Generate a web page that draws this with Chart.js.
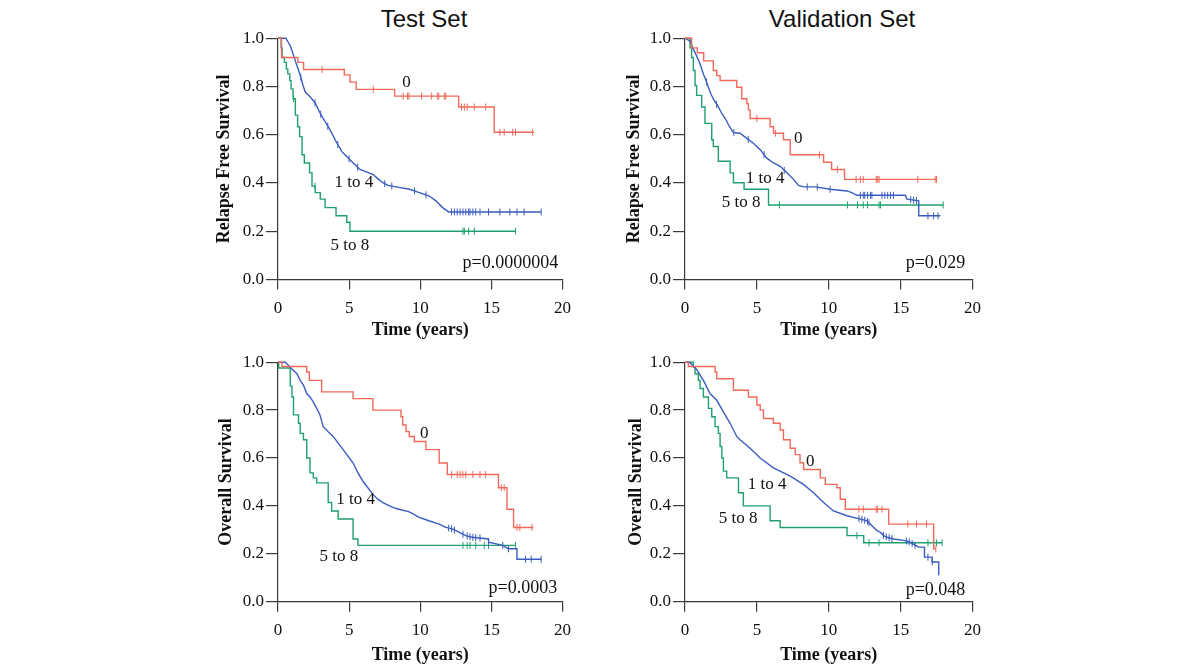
<!DOCTYPE html>
<html>
<head>
<meta charset="utf-8">
<script src="https://cdn.jsdelivr.net/npm/chart.js@4.4.1/dist/chart.umd.min.js"></script>
<style>
  body { margin: 0; background: #fff; width: 1200px; height: 671px; position: relative; overflow: hidden; }
  canvas { position: absolute; }
  .title { position: absolute; font-family: 'Liberation Sans', Arial, sans-serif; font-size: 24px;
           line-height: 24px; color: #111; transform: translateX(-50%); white-space: nowrap; }
</style>
</head>
<body>
<div class="title" style="left:424px; top:7px">Test Set</div>
<div class="title" style="left:842px; top:7px">Validation Set</div>
<canvas id="rfsTest" width="385" height="320" style="left:195px; top:26px"></canvas>
<canvas id="rfsVal" width="388" height="320" style="left:602px; top:26px"></canvas>
<canvas id="osTest" width="385" height="321" style="left:195px; top:350px"></canvas>
<canvas id="osVal" width="388" height="321" style="left:602px; top:350px"></canvas>
<script>
// ============================================================
// Kaplan-Meier curves — risk score groups 0 / 1 to 4 / 5 to 8
// ============================================================

const X_TICKS = [0, 5, 10, 15, 20];
const Y_TICKS = [0, 0.2, 0.4, 0.6, 0.8, 1.0];

// ── Relapse free survival, test set ─────────────────────────
const rfsTestT0 = [0, 0.25, 1.4, 1.8, 4.66, 5.06, 5.5, 8.2, 12.7, 15.2, 18.0];
const rfsTestS0 = [1, 0.92, 0.90, 0.87, 0.848, 0.818, 0.788, 0.76, 0.715, 0.61, 0.61];
const rfsTestC0 = [3.1, 6.7, 8.8, 9.1, 9.2, 10.1, 10.8, 11.2, 11.3, 11.7, 11.8, 12.9, 13.1, 13.3, 13.8, 14.6, 15.6, 15.9, 16.5, 16.7, 17.9];

const rfsTestT1 = [0, 0.55, 0.87, 0.99, 1.22, 1.38, 1.57, 1.76, 1.92, 2.27, 2.62, 2.97, 3.31, 3.66, 4.08, 4.48, 4.83, 5.29, 5.76, 6.22, 6.69, 7.03, 7.38, 7.73, 8.5, 9.25, 9.94, 10.64, 11.1, 11.57, 12.0, 18.5];
const rfsTestS1 = [1, 1, 0.968, 0.947, 0.906, 0.879, 0.845, 0.804, 0.777, 0.756, 0.731, 0.688, 0.654, 0.62, 0.572, 0.531, 0.51, 0.483, 0.456, 0.446, 0.435, 0.417, 0.401, 0.39, 0.382, 0.374, 0.36, 0.346, 0.326, 0.298, 0.28, 0.28];
const rfsTestC1 = [1.6, 2.6, 3.0, 3.5, 4.2, 5.0, 5.6, 7.5, 8.0, 9.6, 10.4, 12.2, 12.4, 12.6, 12.8, 13.0, 13.2, 13.4, 13.5, 13.7, 13.9, 14.2, 14.8, 15.6, 16.3, 16.8, 17.3, 18.5];

const rfsTestT2 = [0, 0.22, 0.29, 0.45, 0.59, 0.69, 0.83, 0.92, 1.06, 1.22, 1.38, 1.52, 1.69, 1.85, 2.22, 2.39, 2.62, 2.97, 3.31, 4.08, 4.83, 5.06, 16.7];
const rfsTestS2 = [1, 0.96, 0.92, 0.90, 0.872, 0.852, 0.824, 0.79, 0.749, 0.681, 0.633, 0.592, 0.517, 0.483, 0.442, 0.387, 0.36, 0.333, 0.298, 0.264, 0.237, 0.2, 0.2];
const rfsTestC2 = [1.1, 2.6, 13.0, 13.1, 13.4, 13.8, 16.7];

// ── Relapse free survival, validation set ───────────────────
const rfsValT0 = [0, 0.46, 0.86, 1.3, 1.97, 2.21, 2.44, 3.6, 3.95, 4.3, 4.41, 4.53, 5.92, 6.16, 6.85, 7.32, 9.64, 10.2, 11.1, 17.5];
const rfsValS0 = [1, 0.96, 0.94, 0.906, 0.866, 0.845, 0.825, 0.797, 0.749, 0.729, 0.702, 0.667, 0.633, 0.606, 0.579, 0.517, 0.486, 0.456, 0.415, 0.415];
const rfsValC0 = [5.0, 6.3, 9.36, 10.6, 11.9, 12.2, 12.4, 13.3, 13.4, 13.5, 16.2, 17.4, 17.5];

const rfsValT1 = [0, 0.35, 0.53, 0.7, 0.86, 1.05, 1.28, 1.46, 1.63, 1.79, 2.02, 2.32, 2.56, 2.86, 3.1, 3.37, 3.83, 4.3, 4.76, 5.23, 5.69, 6.16, 6.62, 7.09, 7.55, 7.9, 8.25, 9.06, 10.1, 11.27, 11.6, 11.96, 15.33, 15.45, 16.26, 16.26, 17.77];
const rfsValS1 = [1, 0.988, 0.961, 0.94, 0.92, 0.893, 0.852, 0.825, 0.797, 0.77, 0.743, 0.715, 0.688, 0.661, 0.633, 0.609, 0.606, 0.585, 0.565, 0.538, 0.503, 0.483, 0.469, 0.442, 0.415, 0.39, 0.384, 0.384, 0.374, 0.367, 0.36, 0.349, 0.349, 0.333, 0.326, 0.264, 0.264];
const rfsValC1 = [1.5, 2.2, 3.4, 4.4, 5.5, 6.9, 8.5, 9.2, 10.1, 12.2, 12.4, 12.5, 12.7, 12.9, 13.0, 13.7, 13.9, 14.1, 14.3, 14.5, 15.7, 15.9, 16.1, 16.9, 17.3, 17.6];

const rfsValT2 = [0, 0.35, 0.46, 0.58, 0.7, 0.81, 1.16, 1.39, 1.86, 1.97, 2.32, 3.14, 3.37, 4.11, 5.81, 17.96];
const rfsValS2 = [1, 0.96, 0.92, 0.866, 0.804, 0.763, 0.715, 0.647, 0.579, 0.551, 0.49, 0.442, 0.401, 0.374, 0.309, 0.309];
const rfsValC2 = [6.57, 11.3, 12.0, 12.4, 12.7, 13.5, 13.6, 17.96];

// ── Overall survival, test set ──────────────────────────────
const osTestT0 = [0, 0.28, 2.02, 2.2, 3.07, 5.28, 6.67, 8.65, 8.77, 9.0, 9.23, 9.58, 10.4, 11.33, 11.9, 15.5, 16.1, 16.56, 17.96];
const osTestS0 = [1, 0.982, 0.959, 0.924, 0.876, 0.848, 0.80, 0.772, 0.738, 0.71, 0.69, 0.669, 0.635, 0.579, 0.531, 0.476, 0.386, 0.31, 0.31];
const osTestC0 = [12.2, 12.6, 12.8, 13.0, 13.2, 13.7, 14.2, 14.6, 15.7, 15.9, 16.8, 17.0, 17.85];

const osTestT1 = [0, 0.51, 0.74, 0.98, 1.33, 1.56, 1.79, 2.02, 2.25, 2.48, 2.72, 2.95, 3.18, 3.53, 3.88, 4.23, 4.58, 4.93, 5.28, 5.62, 5.97, 6.32, 6.67, 7.02, 7.37, 7.84, 8.3, 9.23, 9.93, 10.6, 11.33, 11.8, 12.25, 12.72, 13.2, 13.65, 14.8, 14.8, 15.8, 16.2, 16.8, 16.8, 18.5];
const osTestS1 = [1, 1, 0.986, 0.972, 0.952, 0.924, 0.904, 0.869, 0.855, 0.834, 0.807, 0.78, 0.731, 0.71, 0.69, 0.662, 0.635, 0.607, 0.579, 0.538, 0.503, 0.476, 0.448, 0.428, 0.414, 0.40, 0.389, 0.375, 0.352, 0.338, 0.324, 0.31, 0.304, 0.29, 0.276, 0.269, 0.262, 0.248, 0.235, 0.221, 0.221, 0.177, 0.177];
const osTestC1 = [12.0, 12.2, 12.4, 13.0, 13.3, 13.5, 13.7, 13.9, 14.2, 14.8, 15.8, 16.2, 17.4, 17.8, 18.5];

const osTestT2 = [0, 0.05, 0.86, 0.98, 1.09, 1.44, 1.56, 1.79, 2.02, 2.25, 2.48, 2.72, 3.53, 3.77, 4.23, 5.28, 5.62, 16.7];
const osTestS2 = [1, 0.976, 0.90, 0.855, 0.78, 0.745, 0.703, 0.676, 0.60, 0.538, 0.517, 0.496, 0.414, 0.379, 0.345, 0.262, 0.235, 0.235];
const osTestC2 = [13.0, 13.3, 13.5, 13.9, 14.5, 14.8, 16.7];

// ── Overall survival, validation set ────────────────────────
const osValT0 = [0, 0.23, 2.09, 2.21, 3.37, 4.41, 5.0, 5.23, 5.46, 6.15, 6.62, 6.85, 7.32, 7.67, 8.0, 8.25, 9.41, 9.76, 10.57, 10.8, 11.15, 14.17, 17.3, 17.45];
const osValS0 = [1, 0.982, 0.959, 0.931, 0.883, 0.855, 0.821, 0.80, 0.765, 0.745, 0.717, 0.676, 0.641, 0.614, 0.58, 0.552, 0.517, 0.49, 0.476, 0.428, 0.386, 0.324, 0.221, 0.221];
const osValC0 = [12.1, 12.4, 13.3, 13.4, 13.7, 15.5, 16.1, 16.8, 17.45];

const osValT1 = [0, 0.3, 0.81, 1.28, 1.74, 2.21, 2.67, 3.14, 3.6, 3.83, 4.53, 5.23, 6.15, 7.32, 8.24, 8.94, 9.64, 10.33, 11.27, 12.2, 12.66, 12.89, 13.13, 13.36, 13.59, 13.82, 14.05, 14.52, 15.33, 15.68, 16.03, 16.26, 16.66, 16.66, 17.19, 17.19, 17.65, 17.65];
const osValS1 = [1, 1, 0.97, 0.924, 0.869, 0.841, 0.793, 0.745, 0.69, 0.676, 0.641, 0.60, 0.559, 0.524, 0.49, 0.455, 0.414, 0.379, 0.359, 0.345, 0.338, 0.324, 0.31, 0.297, 0.29, 0.276, 0.269, 0.262, 0.255, 0.248, 0.235, 0.228, 0.228, 0.186, 0.186, 0.166, 0.166, 0.11];
const osValC1 = [12.1, 12.3, 12.5, 12.7, 12.8, 13.8, 14.0, 14.2, 14.4, 15.4, 15.6, 15.8, 16.0, 16.9, 17.2];

const osValT2 = [0, 0.58, 0.7, 0.93, 1.05, 1.28, 1.63, 1.86, 2.09, 2.32, 2.44, 2.56, 2.67, 2.9, 3.72, 4.06, 5.92, 6.62, 11.27, 12.43, 17.89];
const osValS2 = [1, 0.98, 0.952, 0.924, 0.89, 0.855, 0.807, 0.772, 0.731, 0.703, 0.648, 0.60, 0.545, 0.517, 0.455, 0.40, 0.338, 0.31, 0.276, 0.246, 0.246];
const osValC2 = [11.96, 12.8, 13.5, 16.9, 17.3, 17.5, 17.89];

// Shared look
const SERIF = "'Liberation Serif', 'Times New Roman', serif";
const COLORS = ['#F0695A', '#3A5CC0', '#1FA06C'];
const AXIS = '#3a3a3a';

// ── Curve value at time t (step or traced line) ─────────────
function levelAt(ts, ss, t, stepped) {
    let i = 0;
    while (i + 1 < ts.length && ts[i + 1] <= t) i++;
    if (stepped || i + 1 >= ts.length) return ss[i];
    const f = (t - ts[i]) / (ts[i + 1] - ts[i]);
    return ss[i] + f * (ss[i + 1] - ss[i]);
}

function groupSets(ts, ss, cs, color, stepped) {
    return [
        {
            data: ts.map((t, i) => ({ x: t, y: ss[i] })),
            showLine: true,
            stepped: stepped ? 'before' : false,
            borderColor: color,
            borderWidth: 1.4,
            pointRadius: 0,
            fill: false,
            clip: false
        },
        {
            data: cs.map(t => ({ x: t, y: levelAt(ts, ss, t, stepped) })),
            showLine: false,
            pointStyle: 'line',
            rotation: 90,
            pointRadius: 3.5,
            borderColor: color,
            borderWidth: 1,
            clip: false
        }
    ];
}

// Group labels and p value, placed in data units
const textPlugin = {
    id: 'kmText',
    afterDatasetsDraw(chart, args, opts) {
        const { ctx, scales: { x, y } } = chart;
        ctx.save();
        ctx.fillStyle = '#111';
        ctx.textBaseline = 'middle';
        opts.items.forEach(it => {
            ctx.font = (it.size || 17) + 'px ' + SERIF;
            ctx.textAlign = it.align || 'center';
            ctx.fillText(it.text, x.getPixelForValue(it.t), y.getPixelForValue(it.s));
        });
        ctx.restore();
    }
};

function makePanel(id, yTitle, groups, items, yTitlePad, xAxisHeight) {
    const datasets = [];
    groups.forEach((g, k) => datasets.push(...groupSets(g[0], g[1], g[2], COLORS[k], k !== 1)));

    new Chart(document.getElementById(id), {
        type: 'scatter',
        data: { datasets },
        plugins: [textPlugin],
        options: {
            responsive: false,
            animation: false,
            layout: { padding: { top: 10, right: 16, left: 0, bottom: 0 } },
            plugins: {
                legend: { display: false },
                tooltip: { enabled: false },
                kmText: { items }
            },
            scales: {
                x: {
                    type: 'linear', min: 0, max: 20,
                    afterBuildTicks: s => { s.ticks = X_TICKS.map(v => ({ value: v })); },
                    afterFit: s => { s.height = xAxisHeight; },
                    ticks: { color: '#111', font: { family: SERIF, size: 17 }, padding: 9, maxRotation: 0 },
                    grid: { drawOnChartArea: false, drawTicks: true, tickLength: 10, color: AXIS, lineWidth: 1.2 },
                    border: { display: true, color: AXIS, width: 1.2 },
                    title: { display: true, text: 'Time (years)', color: '#111',
                             font: { family: SERIF, size: 18, weight: 'bold' },
                             padding: { top: 0, bottom: 5 } }
                },
                y: {
                    min: 0, max: 1,
                    afterBuildTicks: s => { s.ticks = Y_TICKS.map(v => ({ value: v })); },
                    afterFit: s => { s.width = 83; },
                    ticks: { color: '#111', font: { family: SERIF, size: 17 }, padding: 2,
                             callback: v => Number(v).toFixed(1) },
                    grid: { drawOnChartArea: false, drawTicks: true, tickLength: 12, color: AXIS, lineWidth: 1.2 },
                    border: { display: true, color: AXIS, width: 1.2 },
                    title: { display: true, text: yTitle, color: '#111',
                             font: { family: SERIF, size: 18, weight: 'bold' },
                             padding: { top: yTitlePad, bottom: 0 } }
                }
            }
        }
    });
}

makePanel('rfsTest', 'Relapse Free Survival',
    [[rfsTestT0, rfsTestS0, rfsTestC0], [rfsTestT1, rfsTestS1, rfsTestC1], [rfsTestT2, rfsTestS2, rfsTestC2]],
    [{ text: '0', t: 9.04, s: 0.818 }, { text: '1 to 4', t: 5.34, s: 0.40 },
     { text: '5 to 8', t: 5.06, s: 0.141 }, { text: 'p=0.0000004', t: 19.7, s: 0.068, align: 'right', size: 18 }],
    19, 66.5);

makePanel('rfsVal', 'Relapse Free Survival',
    [[rfsValT0, rfsValS0, rfsValC0], [rfsValT1, rfsValS1, rfsValC1], [rfsValT2, rfsValS2, rfsValC2]],
    [{ text: '0', t: 7.87, s: 0.584 }, { text: '1 to 4', t: 5.57, s: 0.42 },
     { text: '5 to 8', t: 3.9, s: 0.318 }, { text: 'p=0.029', t: 19.5, s: 0.068, align: 'right', size: 18 }],
    22, 66.5);

makePanel('osTest', 'Overall Survival',
    [[osTestT0, osTestS0, osTestC0], [osTestT1, osTestS1, osTestC1], [osTestT2, osTestS2, osTestC2]],
    [{ text: '0', t: 10.28, s: 0.702 }, { text: '1 to 4', t: 5.46, s: 0.425 },
     { text: '5 to 8', t: 4.28, s: 0.189 }, { text: 'p=0.0003', t: 19.63, s: 0.057, align: 'right', size: 18 }],
    21, 69.3);

makePanel('osVal', 'Overall Survival',
    [[osValT0, osValS0, osValC0], [osValT1, osValS1, osValC1], [osValT2, osValS2, osValC2]],
    [{ text: '0', t: 8.71, s: 0.586 }, { text: '1 to 4', t: 5.71, s: 0.491 },
     { text: '5 to 8', t: 3.69, s: 0.346 }, { text: 'p=0.048', t: 19.5, s: 0.046, align: 'right', size: 18 }],
    24, 69.3);
</script>
</body>
</html>
